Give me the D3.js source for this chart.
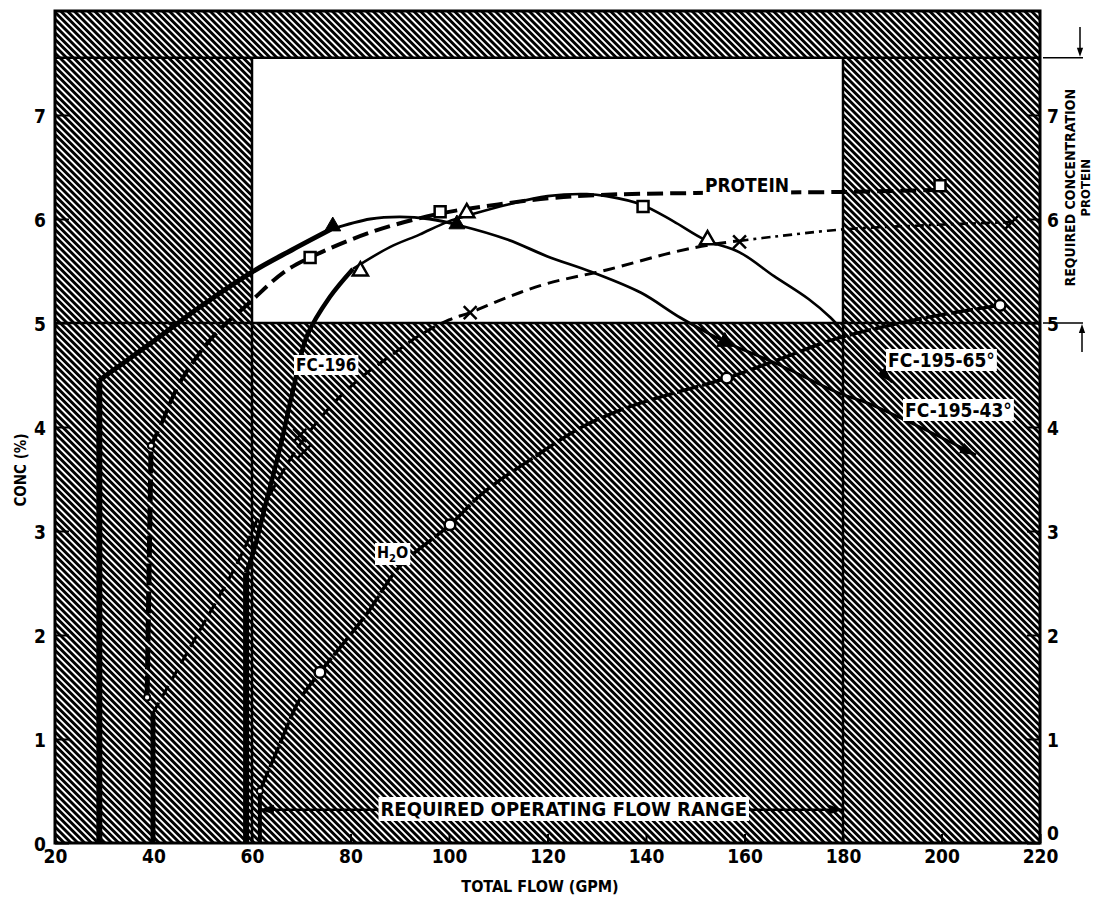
<!DOCTYPE html>
<html>
<head>
<meta charset="utf-8">
<script src="https://d3js.org/d3.v7.min.js"></script>
<style>
  body { margin: 0; background: #fff; }
  text { font-family: 'DejaVu Sans Condensed', 'Liberation Sans Narrow', 'DejaVu Sans', sans-serif; font-weight: bold; }
</style>
</head>
<body>
<div id="chart"></div>
<script>

// AXES

var xTicks = [20, 40, 60, 80, 100, 120, 140, 160, 180, 200, 220];
var yTicks = [0, 1, 2, 3, 4, 5, 6, 7];

// hatched (outside spec) regions: [x0, x1, y0, y1]
var hatchRegions = [[20, 220, 7.55, 8], [20, 60, 0, 7.55], [180, 220, 0, 7.55], [60, 180, 0, 5]];
var flowLimits = [60, 180];
var concLimits = [5, 7.55];
var flowRange = [61.6, 180, 0.32];

// CURVES  [gpm, conc]

var fc43Stem = [[29, 0], [29, 4.45]];
var fc43Rise = [[29, 4.45], [39, 4.79], [49, 5.14], [60, 5.49], [68, 5.7], [76, 5.9]];
var fc43Fall = [[76, 5.9], [84, 6.0], [90, 6.02], [96, 6.0], [102, 5.94], [112, 5.8], [120, 5.64], [129, 5.49], [139, 5.29], [147, 5.05], [156, 4.82], [166, 4.62], [179, 4.33], [185, 4.23], [196, 3.99], [207, 3.73]];

var fc65Stem = [[58.8, 0], [58.8, 2.6]];
var fc65Rise = [[58.8, 2.6], [60.3, 2.8], [63, 3.3], [65.7, 3.8], [68.3, 4.35], [71.2, 4.88], [75.8, 5.25], [80.5, 5.52]];
var fc65Fall = [[80.5, 5.52], [88, 5.73], [94, 5.85], [99.6, 5.97], [105, 6.05], [112, 6.14], [120, 6.22], [128, 6.24], [132, 6.22], [139, 6.14], [145.5, 5.98], [152, 5.8], [159, 5.68], [166, 5.45], [173, 5.23], [177.5, 5.05], [181.5, 4.84], [190, 4.43]];

var proteinStem = [[38.7, 1.4], [39.5, 3.82]];
var proteinCurve = [[39.5, 3.82], [41.3, 4.0], [45.4, 4.43], [52.1, 4.87], [59.6, 5.2], [66.5, 5.49], [71.8, 5.63], [84.6, 5.88], [98, 6.05], [110, 6.14], [120.5, 6.2], [130, 6.23], [150, 6.25], [180, 6.26], [199, 6.28]];

var crossStem = [[39.9, 0], [39.9, 1.25]];
var crossCurve = [[39.9, 1.25], [48.5, 1.97], [57, 2.69], [62, 3.2], [66, 3.55], [70, 3.85], [76, 4.2], [82, 4.47], [88, 4.68], [94, 4.88], [100, 5.03], [104.3, 5.1], [112, 5.25], [120, 5.38], [132, 5.51], [145.5, 5.68], [154, 5.76], [159, 5.79]];
var crossTail = [[159, 5.79], [166, 5.83], [180, 5.9], [197, 5.94], [214, 5.97]];

var h2oStem = [[61.6, 0], [61.6, 0.5]];
var h2oCurve = [[61.6, 0.5], [65, 0.88], [69.7, 1.38], [73.8, 1.64], [83.4, 2.21], [90, 2.66], [100.2, 3.06], [107, 3.37], [117, 3.7], [127, 4.0], [137, 4.2], [146, 4.33], [156.4, 4.47], [167, 4.65], [178, 4.84], [191.6, 5.0], [200, 5.08], [211.9, 5.17]];

// MARKERS

var squareMarks = [[71.8, 5.63], [98.2, 6.07], [139.4, 6.12], [199.7, 6.32]];
var openTriMarks = [[82, 5.5], [103.6, 6.06], [152.5, 5.8]];
var filledTriMarks = [[76.4, 5.93], [101.6, 5.95], [156, 4.82]];
var crossMarks = [[69.7, 3.92], [70.5, 3.76], [104.3, 5.1], [159, 5.78], [214.3, 5.97]];
var circleMarks = [[73.8, 1.64], [100.2, 3.06], [156.4, 4.47], [211.9, 5.17]];
var joinMarks = [[61.6, 0.5], [39.5, 3.82], [38.7, 1.4]];

var width = 1093, height = 899;

var x = d3.scaleLinear().domain([20, 220]).range([55, 1040]);
var y = d3.scaleLinear().domain([0, 8]).range([843, 11]);

var svg = d3.select('#chart')
  .append('svg')
    .attr('width', width)
    .attr('height', height);

// HATCHING

var defs = svg.append('defs');
var pat = defs.append('pattern')
  .attr('id', 'hatch')
  .attr('patternUnits', 'userSpaceOnUse')
  .attr('width', 4.8)
  .attr('height', 10)
  .attr('patternTransform', 'rotate(-45)');
pat.append('rect')
  .attr('width', 2.9)
  .attr('height', 10)
  .attr('fill', '#000');

svg.selectAll('rect.hatch')
  .data(hatchRegions)
  .enter().append('rect')
    .attr('class', 'hatch')
    .attr('x', function(d) { return x(d[0]) })
    .attr('y', function(d) { return y(d[3]) })
    .attr('width', function(d) { return x(d[1]) - x(d[0]) })
    .attr('height', function(d) { return y(d[2]) - y(d[3]) })
    .attr('fill', 'url(#hatch)');

// limit lines
svg.selectAll('line.hlimit')
  .data(concLimits)
  .enter().append('line')
    .attr('x1', x(20)).attr('x2', x(220))
    .attr('y1', function(d) { return y(d) }).attr('y2', function(d) { return y(d) })
    .attr('stroke', '#000').attr('stroke-width', 2.5);

svg.selectAll('line.vlimit')
  .data(flowLimits)
  .enter().append('line')
    .attr('x1', function(d) { return x(d) }).attr('x2', function(d) { return x(d) })
    .attr('y1', y(0)).attr('y2', y(concLimits[1]))
    .attr('stroke', '#000').attr('stroke-width', 2.5);

// frame
svg.append('rect')
  .attr('x', x(20)).attr('y', y(8))
  .attr('width', x(220) - x(20)).attr('height', y(0) - y(8))
  .attr('fill', 'none').attr('stroke', '#000').attr('stroke-width', 3);

// AXES

var xAxis = svg.append('g')
  .attr('transform', 'translate(0,' + y(0) + ')')
  .call(d3.axisBottom(x).tickValues(xTicks).tickSize(-9).tickPadding(7));
var yAxisL = svg.append('g')
  .attr('transform', 'translate(' + x(20) + ',0)')
  .call(d3.axisLeft(y).tickValues(yTicks).tickSize(-14).tickPadding(9));
var yAxisR = svg.append('g')
  .attr('transform', 'translate(' + x(220) + ',0)')
  .call(d3.axisRight(y).tickValues(yTicks).tickSize(-13).tickPadding(7));

[xAxis, yAxisL, yAxisR].forEach(function(a) {
  a.select('.domain').remove();
  a.selectAll('line').attr('stroke', '#000').attr('stroke-width', 2);
  a.selectAll('text').attr('font-size', 19).attr('fill', '#000');
});
yAxisL.selectAll('text').attr('dy', '0.38em');
yAxisR.selectAll('text').attr('dy', function(d) { return d === 0 ? '-0.2em' : '0.38em' });

svg.append('text')
  .text('TOTAL FLOW (GPM)')
  .attr('x', 540).attr('y', 892)
  .attr('text-anchor', 'middle')
  .attr('font-size', 16);

svg.append('text')
  .text('CONC (%)')
  .attr('transform', 'translate(26,470) rotate(-90)')
  .attr('text-anchor', 'middle')
  .attr('font-size', 15);

// CURVES

var smooth = d3.line()
  .x(function(d) { return x(d[0]) })
  .y(function(d) { return y(d[1]) })
  .curve(d3.curveCatmullRom.alpha(0.5));

var series = [
  { pts: fc43Stem, w: 6 },
  { pts: fc43Rise, w: 5 },
  { pts: fc43Fall, w: 2.8 },
  { pts: fc65Stem, w: 6 },
  { pts: fc65Rise, w: 4.5 },
  { pts: fc65Fall, w: 2.6 },
  { pts: proteinStem, w: 5, dash: '22,6' },
  { pts: proteinCurve, w: 4, dash: '16,7' },
  { pts: crossStem, w: 5 },
  { pts: crossCurve, w: 3, dash: '12,7' },
  { pts: crossTail, w: 2.6, dash: '9,5,3,5' },
  { pts: h2oStem, w: 4 },
  { pts: h2oCurve, w: 3.5, dash: '22,4' }
];

svg.selectAll('path.curve')
  .data(series)
  .enter().append('path')
    .attr('class', 'curve')
    .attr('d', function(d) { return smooth(d.pts) })
    .attr('fill', 'none')
    .attr('stroke', '#000')
    .attr('stroke-width', function(d) { return d.w })
    .attr('stroke-dasharray', function(d) { return d.dash || null });

// flow range arrow
svg.append('line')
  .attr('x1', x(flowRange[0])).attr('x2', x(flowRange[1]))
  .attr('y1', y(flowRange[2])).attr('y2', y(flowRange[2]))
  .attr('stroke', '#000').attr('stroke-width', 2.5);

function arrowHead(px, py, ang, len) {
  svg.append('path')
    .attr('d', 'M0,0L' + (-len) + ',' + (-len * 0.35) + 'L' + (-len) + ',' + (len * 0.35) + 'Z')
    .attr('transform', 'translate(' + px + ',' + py + ') rotate(' + ang + ')')
    .attr('fill', '#000');
}

function endArrow(pts) {
  var a = pts[pts.length - 2], b = pts[pts.length - 1];
  var ang = Math.atan2(y(b[1]) - y(a[1]), x(b[0]) - x(a[0])) * 180 / Math.PI;
  arrowHead(x(b[0]), y(b[1]), ang, 16);
}
endArrow(fc43Fall);
endArrow(fc65Fall);
arrowHead(x(flowRange[0]), y(flowRange[2]), 180, 14);
arrowHead(x(flowRange[1]), y(flowRange[2]), 0, 14);

// MARKERS

function marks(data, type, size, fill, sw) {
  svg.append('g').selectAll('path')
    .data(data)
    .enter().append('path')
      .attr('d', d3.symbol().type(type).size(size))
      .attr('transform', function(d) { return 'translate(' + x(d[0]) + ',' + y(d[1]) + ')' })
      .attr('fill', fill)
      .attr('stroke', '#000')
      .attr('stroke-width', sw);
}
marks(squareMarks, d3.symbolSquare, 120, '#fff', 2.5);
marks(openTriMarks, d3.symbolTriangle, 100, '#fff', 2.5);
marks(filledTriMarks, d3.symbolTriangle, 110, '#000', 1);
marks(crossMarks, d3.symbolTimes || d3.symbolX, 110, 'none', 2.5);
marks(circleMarks, d3.symbolCircle, 90, '#fff', 2.5);
marks(joinMarks, d3.symbolCircle, 30, '#fff', 2);

// LABELS

function label(txt, px, py, size, anchor) {
  var g = svg.append('g');
  var t = g.append('text')
    .attr('x', px).attr('y', py)
    .attr('font-size', size)
    .attr('text-anchor', anchor || 'start');
  if (txt === 'H2O') {
    t.append('tspan').text('H');
    t.append('tspan').text('2').attr('font-size', size * 0.7).attr('dy', 4);
    t.append('tspan').text('O').attr('dy', -4);
  } else {
    t.text(txt);
  }
  var bb = t.node().getBBox();
  g.insert('rect', 'text')
    .attr('x', bb.x - 2).attr('y', bb.y)
    .attr('width', bb.width + 4).attr('height', bb.height)
    .attr('fill', '#fff');
}

label('PROTEIN', 747, 192, 19, 'middle');
label('FC-196', 296, 371, 17);
label('H2O', 377, 558, 16);
label('FC-195-65°', 888, 367, 19);
label('FC-195-43°', 905, 417, 19);
label('REQUIRED OPERATING FLOW RANGE', x(123.3), 816, 20, 'middle');

// REQUIRED CONCENTRATION bracket

svg.selectAll('line.req')
  .data(concLimits)
  .enter().append('line')
    .attr('x1', x(220) + 3).attr('x2', 1083)
    .attr('y1', function(d) { return y(d) }).attr('y2', function(d) { return y(d) })
    .attr('stroke', '#000').attr('stroke-width', 1.5);

svg.append('line')
  .attr('x1', 1080).attr('x2', 1080).attr('y1', 27).attr('y2', y(concLimits[1]) - 8)
  .attr('stroke', '#000').attr('stroke-width', 1.5);
arrowHead(1080, y(concLimits[1]) - 1, 90, 9);
svg.append('line')
  .attr('x1', 1082).attr('x2', 1082).attr('y1', y(concLimits[0]) + 8).attr('y2', 352)
  .attr('stroke', '#000').attr('stroke-width', 1.5);
arrowHead(1082, y(concLimits[0]) + 1, -90, 9);

svg.append('text')
  .text('REQUIRED CONCENTRATION')
  .attr('transform', 'translate(1075,' + (y(6.3)) + ') rotate(-90)')
  .attr('text-anchor', 'middle')
  .attr('font-size', 14);
svg.append('text')
  .text('PROTEIN')
  .attr('transform', 'translate(1090,' + (y(6.3)) + ') rotate(-90)')
  .attr('text-anchor', 'middle')
  .attr('font-size', 13);

</script>
</body>
</html>
